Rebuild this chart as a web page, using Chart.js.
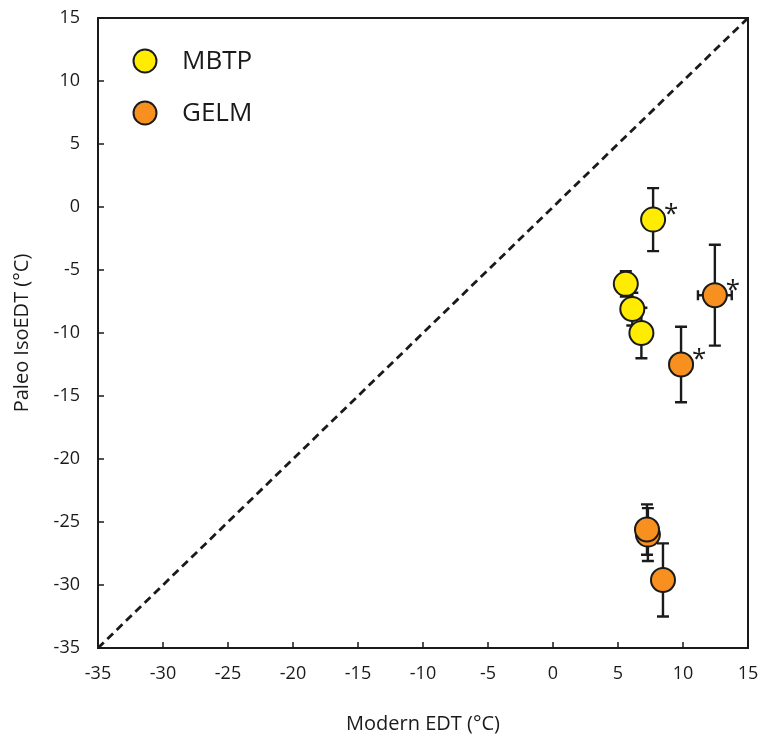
<!DOCTYPE html>
<html>
<head>
<meta charset="utf-8">
<script src="https://cdn.jsdelivr.net/npm/chart.js@4"></script>
<style>
  html, body { margin: 0; padding: 0; background: #fff; }
  #wrap { width: 763px; height: 740px; }
</style>
</head>
<body>
<div id="wrap"><canvas id="grafico" width="763" height="740"></canvas></div>
<script>
// MBTP series
const mbtpX = [7.7, 5.6, 6.1, 6.8];
const mbtpY = [-1.0, -6.1, -8.1, -10.0];
const mbtpErrY = [2.5, 1.0, 1.3, 2.0];
const mbtpErrX = [0, 0, 0, 0];
const mbtpStar = [true, false, false, false];

// GELM series (drawing order matters for the overlapping pair)
const gelmX = [12.45, 9.85, 7.3, 7.23, 8.46];
const gelmY = [-7.0, -12.5, -26.0, -25.6, -29.6];
const gelmErrY = [4.0, 3.0, 2.1, 2.0, 2.9];
const gelmErrX = [1.3, 0.85, 0, 0, 0.8];
const gelmStar = [true, true, false, false, false];

// 1:1 line and axis ticks
const linhaIgual = [-35, 15];
const ticksEixo = [-35, -30, -25, -20, -15, -10, -5, 0, 5, 10, 15];

const fonte = "'Open Sans', 'Noto Sans', sans-serif";

function pontos(xs, ys) {
  return xs.map((x, i) => ({ x: x, y: ys[i] }));
}

// fixed axis box sizes, no automatic label padding
function fixarEixo(tamanho) {
  return s => {
    if (s.isHorizontal()) s.height = tamanho; else s.width = tamanho;
    s.paddingTop = 0; s.paddingBottom = 0;
    s.paddingLeft = 0; s.paddingRight = 0;
  };
}

const series = [
  { x: mbtpX, y: mbtpY, ex: mbtpErrX, ey: mbtpErrY, star: mbtpStar },
  { x: gelmX, y: gelmY, ex: gelmErrX, ey: gelmErrY, star: gelmStar }
];

// error bars go under the markers
const barrasErro = {
  id: 'barrasErro',
  beforeDatasetsDraw(chart) {
    const { ctx, scales: { x, y } } = chart;
    ctx.save();
    ctx.strokeStyle = '#1a1a1a';
    ctx.lineWidth = 2.4;
    series.forEach(s => {
      s.x.forEach((vx, i) => {
        const px = x.getPixelForValue(vx);
        const py = y.getPixelForValue(s.y[i]);
        if (s.ey[i] > 0) {
          const y1 = y.getPixelForValue(s.y[i] + s.ey[i]);
          const y2 = y.getPixelForValue(s.y[i] - s.ey[i]);
          ctx.beginPath();
          ctx.moveTo(px, y1); ctx.lineTo(px, y2);
          ctx.moveTo(px - 6, y1); ctx.lineTo(px + 6, y1);
          ctx.moveTo(px - 6, y2); ctx.lineTo(px + 6, y2);
          ctx.stroke();
        }
        if (s.ex[i] > 0) {
          const x1 = x.getPixelForValue(vx - s.ex[i]);
          const x2 = x.getPixelForValue(vx + s.ex[i]);
          ctx.beginPath();
          ctx.moveTo(x1, py); ctx.lineTo(x2, py);
          ctx.moveTo(x1, py - 5); ctx.lineTo(x1, py + 5);
          ctx.moveTo(x2, py - 5); ctx.lineTo(x2, py + 5);
          ctx.stroke();
        }
      });
    });
    ctx.restore();
  },
  afterDatasetsDraw(chart) {
    const { ctx, scales: { x, y } } = chart;
    ctx.save();
    ctx.fillStyle = '#1a1a1a';
    ctx.font = '26px ' + fonte;
    ctx.textAlign = 'center';
    ctx.textBaseline = 'middle';
    series.forEach(s => {
      s.x.forEach((vx, i) => {
        if (!s.star[i]) return;
        ctx.fillText('*', x.getPixelForValue(vx) + 18, y.getPixelForValue(s.y[i]) - 5);
      });
    });
    ctx.restore();
  }
};

// box frame, inward ticks and legend
const moldura = {
  id: 'moldura',
  afterDraw(chart) {
    const { ctx, chartArea: a, scales: { x, y } } = chart;
    ctx.save();
    ctx.strokeStyle = '#1a1a1a';
    ctx.lineWidth = 2;
    ctx.strokeRect(a.left, a.top, a.right - a.left, a.bottom - a.top);
    ctx.lineWidth = 1.5;
    ctx.beginPath();
    ticksEixo.forEach(t => {
      const px = x.getPixelForValue(t);
      ctx.moveTo(px, a.bottom); ctx.lineTo(px, a.bottom - 6);
      const py = y.getPixelForValue(t);
      ctx.moveTo(a.left, py); ctx.lineTo(a.left + 6, py);
    });
    ctx.stroke();

    const itens = [
      { nome: 'MBTP', cor: '#ffec00', y: 61 },
      { nome: 'GELM', cor: '#f7901e', y: 113 }
    ];
    ctx.font = '26px ' + fonte;
    ctx.textBaseline = 'middle';
    ctx.textAlign = 'left';
    itens.forEach(it => {
      ctx.beginPath();
      ctx.arc(145, it.y, 11.5, 0, Math.PI * 2);
      ctx.fillStyle = it.cor;
      ctx.fill();
      ctx.lineWidth = 2;
      ctx.strokeStyle = '#1a1a1a';
      ctx.stroke();
      ctx.fillStyle = '#1a1a1a';
      ctx.fillText(it.nome, 182, it.y + 1);
    });
    ctx.restore();
  }
};

new Chart(document.getElementById('grafico'), {
  type: 'scatter',
  data: {
    datasets: [
      {
        type: 'line',
        label: '1:1',
        data: pontos(linhaIgual, linhaIgual),
        borderColor: '#1a1a1a',
        borderWidth: 2.8,
        borderDash: [8, 5],
        pointRadius: 0,
        fill: false,
        order: 3
      },
      {
        label: 'MBTP',
        data: pontos(mbtpX, mbtpY),
        backgroundColor: '#ffec00',
        borderColor: '#1a1a1a',
        borderWidth: 2,
        pointRadius: 12,
        order: 2
      },
      {
        label: 'GELM',
        data: pontos(gelmX, gelmY),
        backgroundColor: '#f7901e',
        borderColor: '#1a1a1a',
        borderWidth: 2,
        pointRadius: 12,
        order: 1
      }
    ]
  },
  options: {
    responsive: false,
    animation: false,
    layout: { padding: { top: 18, right: 15, left: 0, bottom: 0 } },
    plugins: {
      legend: { display: false },
      tooltip: { enabled: false }
    },
    scales: {
      x: {
        type: 'linear',
        min: -35,
        max: 15,
        afterBuildTicks: s => { s.ticks = ticksEixo.map(v => ({ value: v })); },
        afterFit: fixarEixo(92),
        grid: { display: false, drawTicks: false },
        border: { display: false },
        ticks: {
          color: '#1a1a1a',
          font: { family: fonte, size: 18 },
          padding: 15,
          maxRotation: 0
        },
        title: {
          display: true,
          text: 'Modern EDT (°C)',
          color: '#1a1a1a',
          font: { family: fonte, size: 20 },
          padding: { top: 20 }
        }
      },
      y: {
        type: 'linear',
        min: -35,
        max: 15,
        afterBuildTicks: s => { s.ticks = ticksEixo.map(v => ({ value: v })); },
        afterFit: fixarEixo(98),
        grid: { display: false, drawTicks: false },
        border: { display: false },
        ticks: {
          color: '#1a1a1a',
          font: { family: fonte, size: 18 },
          padding: 18
        },
        title: {
          display: true,
          text: 'Paleo IsoEDT (°C)',
          color: '#1a1a1a',
          font: { family: fonte, size: 20 },
          padding: { top: 10, bottom: 2 }
        }
      }
    }
  },
  plugins: [barrasErro, moldura]
});
</script>
</body>
</html>
